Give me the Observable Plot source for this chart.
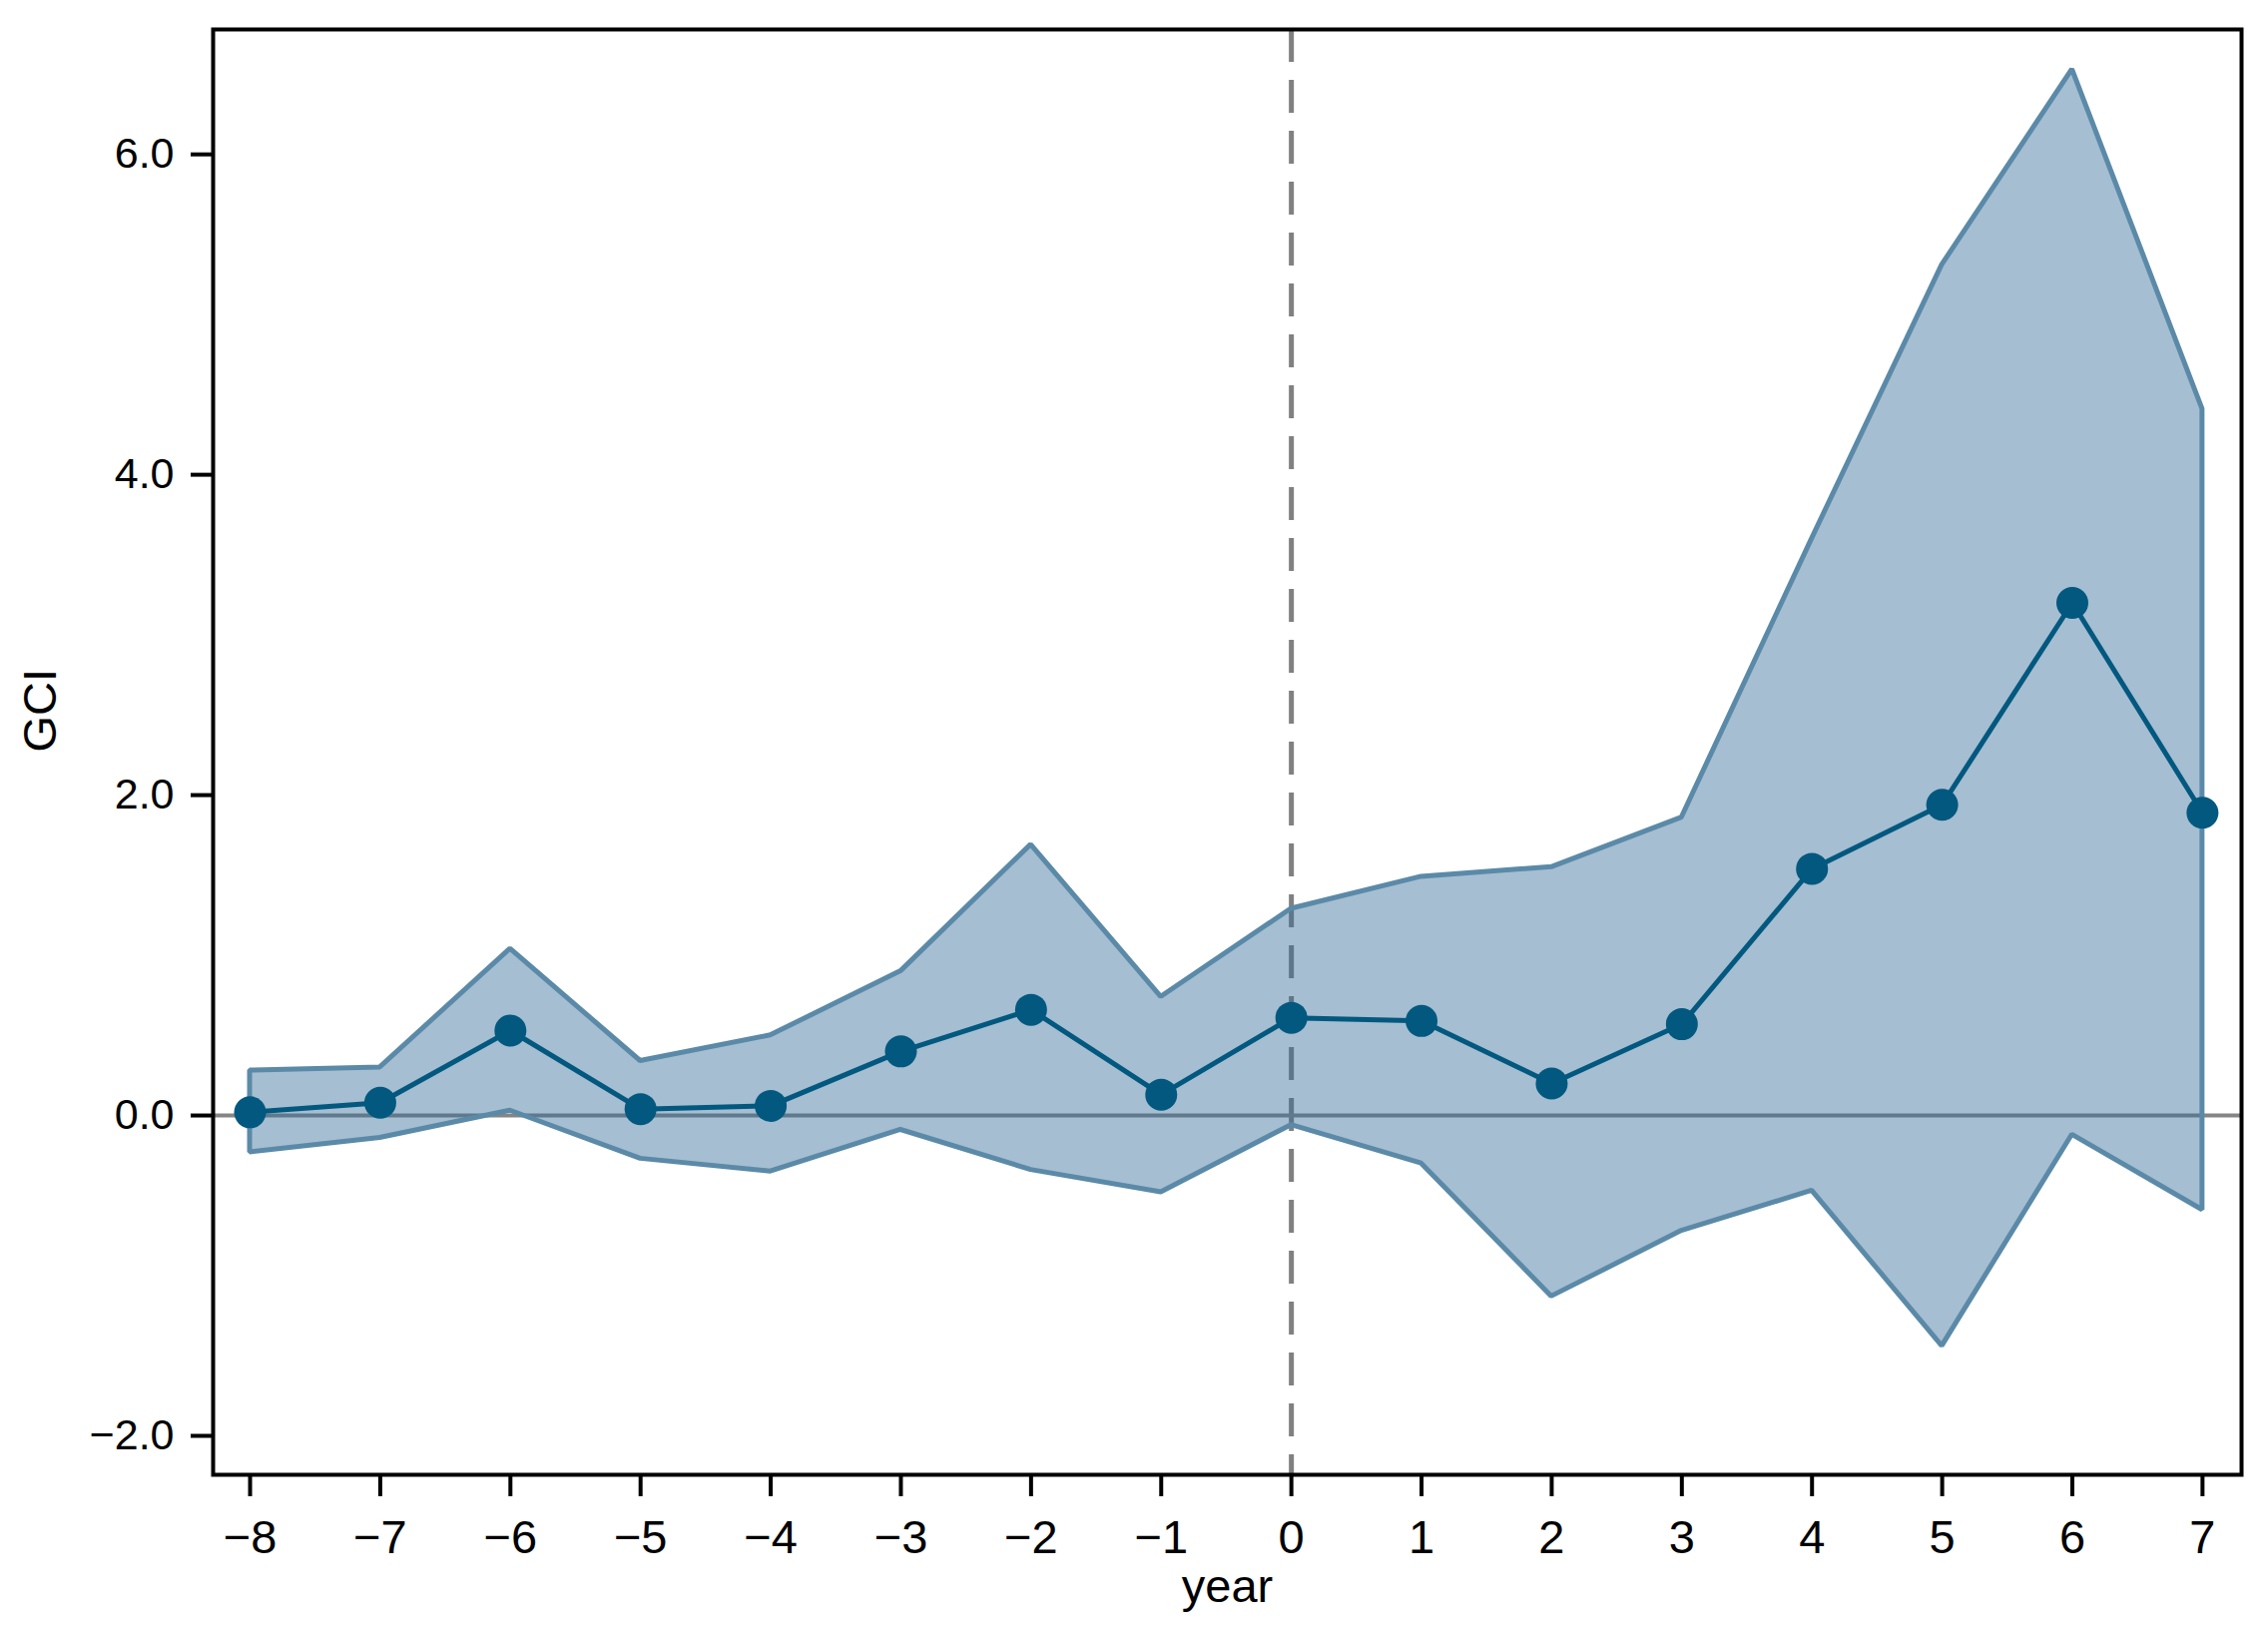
<!DOCTYPE html>
<html>
<head>
<meta charset="utf-8">
<script src="https://cdn.jsdelivr.net/npm/d3@7"></script>
<script src="https://cdn.jsdelivr.net/npm/@observablehq/plot@0.6"></script>
<style>
  html, body { margin: 0; padding: 0; background: white; }
</style>
</head>
<body>
<div id="chart"></div>
<script>
const years    = [-8, -7, -6, -5, -4, -3, -2, -1, 0, 1, 2, 3, 4, 5, 6, 7];
const estimate = [0.02, 0.08, 0.53, 0.04, 0.06, 0.40, 0.66, 0.13, 0.61, 0.59, 0.20, 0.57, 1.54, 1.94, 3.20, 1.89];
const upper    = [0.28, 0.30, 1.04, 0.34, 0.50, 0.90, 1.69, 0.74, 1.29, 1.49, 1.55, 1.86, 3.60, 5.31, 6.53, 4.41];
const lower    = [-0.23, -0.14, 0.03, -0.27, -0.35, -0.09, -0.34, -0.48, -0.06, -0.30, -1.13, -0.72, -0.47, -1.44, -0.12, -0.59];
const xTicks   = [-8, -7, -6, -5, -4, -3, -2, -1, 0, 1, 2, 3, 4, 5, 6, 7];
const yTicks   = [-2, 0, 2, 4, 6];
const xLabel   = "year";
const yLabel   = "GCI";

const data = years.map((year, i) => ({year, est: estimate[i], lo: lower[i], hi: upper[i]}));

const font = "'Liberation Sans', Arial, Helvetica, sans-serif";

const chart = Plot.plot({
  width: 2272,
  height: 1632,
  marginLeft: 213,
  marginRight: 27,
  marginTop: 29,
  marginBottom: 155,
  style: {fontFamily: font, background: "white", color: "black"},
  x: {domain: [-8.284, 7.30]},
  y: {domain: [-2.243, 6.78]},
  marks: [
    Plot.ruleX([0], {stroke: "#808080", strokeWidth: 5, strokeDasharray: "33,18"}),
    Plot.ruleY([0], {stroke: "#858585", strokeWidth: 4}),
    Plot.areaY(data, {x: "year", y1: "lo", y2: "hi", fill: "#316c96", fillOpacity: 0.44, stroke: "#5b8aa8", strokeWidth: 5, strokeLinejoin: "miter"}),
    Plot.line(data, {x: "year", y: "est", stroke: "#03587f", strokeWidth: 5}),
    Plot.dot(data, {x: "year", y: "est", r: 16, fill: "#03587f", stroke: "none"}),
    Plot.frame({stroke: "black", strokeWidth: 4}),
    Plot.axisX({ticks: xTicks, tickFormat: d3.format("d"), tickSize: 22, tickPadding: 23, strokeWidth: 4, fontSize: 47, label: null}),
    Plot.axisY({ticks: yTicks, tickFormat: d3.format(".1f"), tickSize: 22, tickPadding: 17, strokeWidth: 4, fontSize: 43, label: null}),
    Plot.text([xLabel], {frameAnchor: "bottom", dy: 112, fontSize: 47, lineAnchor: "middle", fill: "black"}),
    Plot.text([yLabel], {frameAnchor: "left", dx: -173, rotate: -90, fontSize: 47, lineAnchor: "middle", fill: "black"})
  ]
});

document.getElementById("chart").appendChild(chart);
</script>
</body>
</html>
